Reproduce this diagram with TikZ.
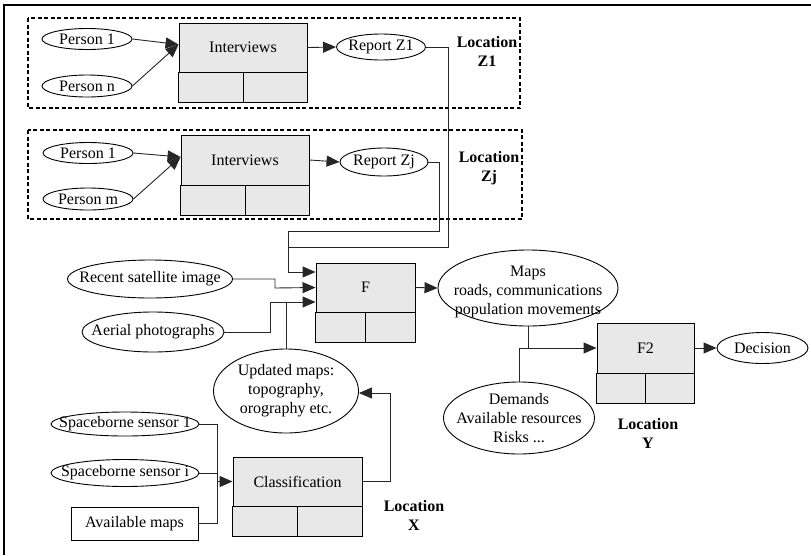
\documentclass[tikz,border=0pt]{standalone}
\usepackage{fontspec}
\setmainfont{Liberation Serif}
\usepackage{tikz}
\usetikzlibrary{shapes.geometric, positioning, arrows.meta, calc}
\definecolor{boxgray}{HTML}{E8E8E8}
\newcommand{\diafont}{\fontsize{16}{19}\selectfont}
\tikzset{
  every node/.style={font=\diafont},
  elip/.style={ellipse, draw=black, line width=0.9pt, inner sep=0pt},
  procbox/.style={rectangle, draw=black, line width=0.9pt, fill=boxgray, inner sep=0pt},
  plainbox/.style={rectangle, draw=black, line width=0.9pt, inner sep=0pt},
  conn/.style={draw=black!85, line width=0.9pt},
  arrow/.style={conn, -{Triangle[length=13pt,width=11pt]}},
  locbox/.style={line width=1.3pt, dash pattern=on 4pt off 2.5pt},
  loclabel/.style={font=\diafont\bfseries, align=center}
}

\begin{document}
\begin{tikzpicture}[x=1pt, y=-1pt]
    \useasboundingbox (0,0) rectangle (811,555);

    % Marco exterior
    \draw[line width=2pt] (4,555) -- (4,5) -- (811,5);

    % Zonas de localizacion (recuadros discontinuos)
    \draw[locbox] (28,18) rectangle (520,108);
    \draw[locbox] (28,130) rectangle (522,219);

    % Localizacion Z1
    \node[elip, minimum width=90pt, minimum height=21pt, label={center:Person 1}] (p1A) at (87,39) {};
    \node[elip, minimum width=90pt, minimum height=22pt, label={center:Person n}] (pnA) at (87,86) {};
    \node[procbox, minimum width=128pt, minimum height=49pt] (intA) at (243,47.5) {Interviews};
    \node[elip, minimum width=89pt, minimum height=26pt, label={center:Report Z1}] (repA) at (381,47) {};
    \node[loclabel] (locA) at (487,51) {Location\\Z1};

    % Localizacion Zj
    \node[elip, minimum width=90pt, minimum height=21pt, label={center:Person 1}] (p1B) at (88,153) {};
    \node[elip, minimum width=90pt, minimum height=22pt, label={center:Person m}] (pmB) at (88,199) {};
    \node[procbox, minimum width=128pt, minimum height=50pt] (intB) at (245,160) {Interviews};
    \node[elip, minimum width=88pt, minimum height=28pt, label={center:Report Zj}] (repB) at (384,162) {};
    \node[loclabel] (locB) at (489,168) {Location\\Zj};

    % Fusion F
    \node[elip, minimum width=165pt, minimum height=38pt, label={center:Recent satellite image}] (sat) at (150,279) {};
    \node[elip, minimum width=142pt, minimum height=40pt, label={center:Aerial photographs}] (aer) at (153,332) {};
    \node[procbox, minimum width=99pt, minimum height=49pt] (F) at (365.5,287.5) {F};
    \node[elip, minimum width=145pt, minimum height=84pt,
          label={[align=center]center:Updated maps:\\topography,\\orography etc.}] (upd) at (286,391) {};
    \node[elip, minimum width=180pt, minimum height=76pt,
          label={[align=center, yshift=-4pt]center:Maps\\roads, communications\\population movements}] (maps) at (528,288) {};

    % Localizacion X
    \node[elip, minimum width=148pt, minimum height=24pt, label={center:Spaceborne sensor 1}] (sens1) at (125,424) {};
    \node[elip, minimum width=148pt, minimum height=27pt, label={center:Spaceborne sensor i}] (sensi) at (125,473) {};
    \node[plainbox, minimum width=127pt, minimum height=33pt] (avail) at (134.5,523.5) {Available maps};
    \node[procbox, minimum width=129pt, minimum height=49pt] (cls) at (297.5,481.5) {Classification};
    \node[loclabel] (locX) at (414,515) {Location\\X};

    % Localizacion Y
    \node[elip, minimum width=151pt, minimum height=72pt,
          label={[align=center]center:Demands\\Available resources\\Risks ...}] (dem) at (519,418) {};
    \node[procbox, minimum width=97pt, minimum height=50pt] (F2) at (645.5,348) {F2};
    \node[elip, minimum width=91pt, minimum height=31pt, label={center:Decision}] (dec) at (762.5,348) {};
    \node[loclabel] (locY) at (648,433) {Location\\Y};

    % Celdas inferiores de cada proceso
    \foreach \b in {intA, intB, F, cls, F2} {
        \draw[procbox] (\b.south west) rectangle ([yshift=-29.5pt]\b.south east);
        \draw[line width=0.9pt] (\b.south) -- ([yshift=-29.5pt]\b.south);
    }

    % Conexiones Z1 y Zj
    \draw[arrow] (p1A.east) -- ([yshift=3pt]intA.west);
    \draw[arrow] (pnA.east) -- ([yshift=3pt]intA.west);
    \draw[arrow] (intA.east) -- (repA.west);
    \draw[arrow] (p1B.east) -- ([yshift=3pt]intB.west);
    \draw[arrow] (pmB.east) -- ([yshift=3pt]intB.west);
    \draw[arrow] (intB.east) -- (repB.west);

    % Informes hacia F
    \coordinate (jz) at (288,231);
    \draw[conn] (repA.east) -| (448,247) -- (288,247);
    \draw[arrow] (repB.east) -| (439,231) -- (jz) |- ([yshift=15.5pt]F.west);
    \draw[arrow] (sat.east) -| (275,288) -- (F.west);
    \draw[arrow] (aer.east) -| (270,302) -- ([yshift=-14.5pt]F.west);
    \draw[conn] (upd.north) -- (upd.north |- 0,302);
    \draw[arrow] (F.east) -- (maps.west);

    % Clasificacion
    \coordinate (jx) at (217,481.5);
    \draw[conn] (sens1.east) -| (jx);
    \draw[conn] (sensi.east) -- (sensi.east -| jx);
    \draw[conn] (avail.east) -| (jx);
    \draw[arrow] (jx) -- (cls.west);
    \draw[arrow] (cls.east) -| (390,393) -- (upd.east |- 0,393);

    % Decision
    \draw[conn] (maps.south) -- (maps.south |- F2.west);
    \draw[arrow] (dem.north) |- (F2.west);
    \draw[arrow] (F2.east) -- (dec.west);
\end{tikzpicture}
\end{document}
